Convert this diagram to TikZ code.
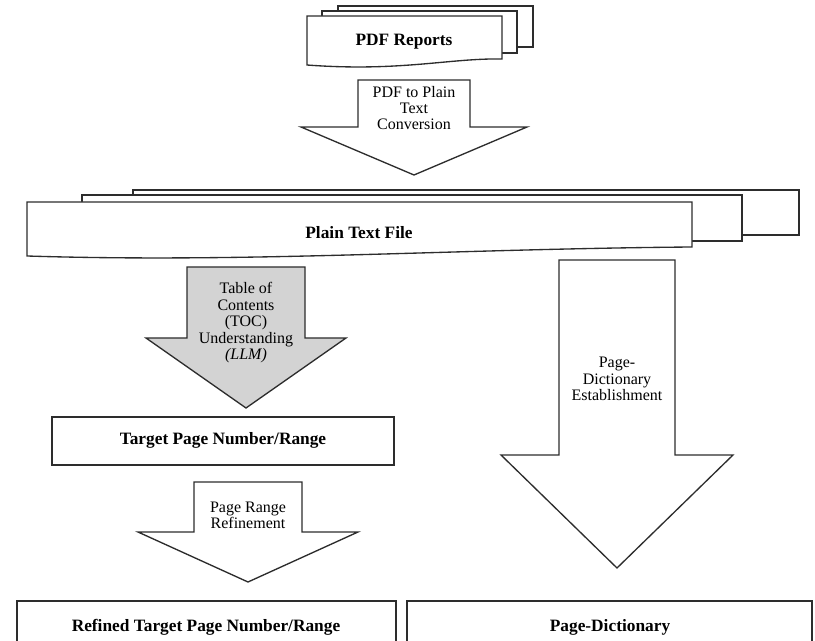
\documentclass[tikz,border=0pt]{standalone}
\usepackage{fontspec}
\setmainfont{Liberation Serif}
\definecolor{toc-gray}{RGB}{211,211,211}
\definecolor{line-color}{RGB}{45,45,45}

\tikzset{
  boxlabel/.style={font=\fontsize{13}{15}\selectfont\bfseries, inner sep=0pt},
  arrowtext/.style={align=center, font=\fontsize{12}{12.2}\selectfont, inner sep=0pt},
  shape line/.style={draw=line-color, line width=1pt, line join=miter, fill=white}
}

\begin{document}
\begin{tikzpicture}[x=0.75pt, y=-0.75pt]
    \useasboundingbox (0,0) rectangle (815,641);
    \clip (0,0) rectangle (815,641);

    % stack of pdf reports
    \draw[shape line] (338,6) rectangle (533,47);
    \draw[shape line] (322,11) rectangle (517,53);
    \draw[shape line] (307,16) -- (502,16) -- (502,59)
        .. controls (450,58) and (400,72) .. (307,65) -- cycle;
    \node[boxlabel] (reports) at (404,42) {PDF Reports};

    % conversion arrow
    \draw[shape line] (358,80) -- (470,80) -- (470,127) -- (527,127)
        -- (414,175) -- (301,127) -- (358,127) -- cycle;
    \node[arrowtext] (convert) at (414,108) {PDF to Plain\\Text\\Conversion};

    % stack of plain text files
    \draw[shape line] (133,190) rectangle (799,235);
    \draw[shape line] (82,195) rectangle (742,241);
    \draw[shape line] (27,202) -- (692,202) -- (692,247)
        .. controls (450,249) and (250,263) .. (27,256) -- cycle;
    \node[boxlabel] (plaintext) at (359,233) {Plain Text File};

    % toc arrow
    \draw[shape line, fill=toc-gray] (187,267) -- (305,267) -- (305,338) -- (346,338)
        -- (246,408) -- (146,338) -- (187,338) -- cycle;
    \node[arrowtext, font=\fontsize{12}{12.4}\selectfont] (toc) at (246,323)
        {Table of\\Contents\\(TOC)\\Understanding\\\textit{(LLM)}};

    % page dictionary arrow
    \draw[shape line] (559,260) -- (675,260) -- (675,455) -- (733,455)
        -- (617,568) -- (501,455) -- (559,455) -- cycle;
    \node[arrowtext] (dictarrow) at (617,379) {Page-\\Dictionary\\Establishment};

    % target page box
    \draw[shape line] (52,417) rectangle (394,465);
    \node[boxlabel] (target) at (223,440) {Target Page Number/Range};

    % refinement arrow
    \draw[shape line] (194,482) -- (302,482) -- (302,532) -- (358,532)
        -- (248,582) -- (138,532) -- (194,532) -- cycle;
    \node[arrowtext] (refine) at (248,515) {Page Range\\Refinement};

    % result boxes
    \draw[shape line] (17,601) rectangle (396,670);
    \node[boxlabel] (refined) at (206,627) {Refined Target Page Number/Range};

    \draw[shape line] (407,601) rectangle (812,670);
    \node[boxlabel] (dictionary) at (610,627) {Page-Dictionary};
\end{tikzpicture}
\end{document}
